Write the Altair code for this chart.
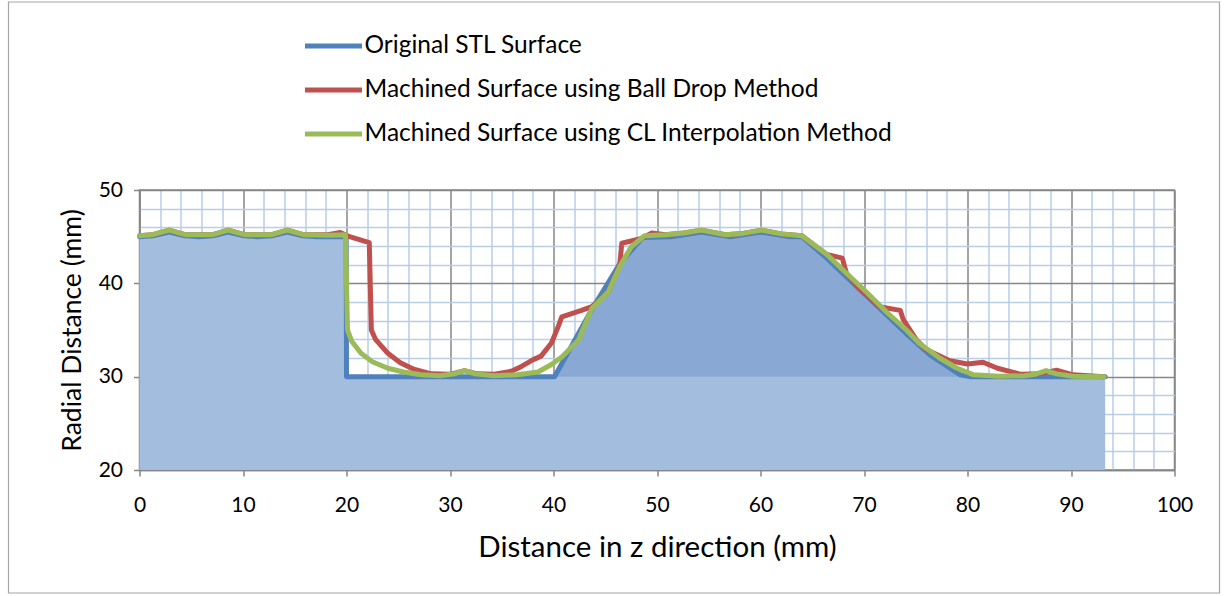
import altair as alt
import pandas as pd

SERIES = [
    "Original STL Surface",
    "Machined Surface using Ball Drop Method",
    "Machined Surface using CL Interpolation Method",
]
COLORS = ["#4F81BD", "#C0504D", "#9BBB59"]

# Original STL surface profile (z, r)
stl_z = [0, 1.3, 2.86, 4.4, 5.71, 7.1, 8.57, 10.1, 11.43, 12.8, 14.29, 15.8, 17.14, 19.97, 20.0,
         40.1, 43.7, 46.4, 48.6, 51.4, 54.3, 57.1, 60.0, 62.9, 64.0, 66.4, 70.1, 74.0, 76.4, 79.3, 80.3, 93.3]
stl_r = [45.0, 45.1, 45.5, 45.1, 45.0, 45.1, 45.5, 45.1, 45.0, 45.1, 45.5, 45.1, 45.0, 45.0, 30.0,
         30.0, 37.2, 42.1, 44.9, 45.0, 45.5, 45.0, 45.5, 45.0, 45.0, 42.7, 38.8, 34.7, 32.3, 30.2, 30.0, 30.0]

# Machined surface, ball drop method
ball_z = [0, 1.2, 2.86, 4.5, 7.0, 8.57, 10.2, 12.7, 14.29, 15.9, 18.2, 19.4, 20.3, 22.2, 22.4, 22.8,
          24.0, 25.2, 26.5, 28.2, 30.0, 31.4, 32.6, 34.3, 36.0, 36.9, 38.0, 38.8, 39.8, 40.5, 40.8,
          42.7, 43.7, 45.3, 46.4, 46.6, 48.5, 49.5, 50.8, 52.6, 54.3, 56.6, 58.3, 60.1, 62.0, 64.0,
          66.4, 67.9, 68.3, 69.5, 71.5, 73.5, 73.8, 75.1, 76.0, 78.3, 80.0, 81.5, 82.9, 85.2, 87.0,
          88.6, 90.2, 93.2]
ball_r = [45.1, 45.2, 45.7, 45.2, 45.2, 45.7, 45.2, 45.2, 45.7, 45.2, 45.2, 45.45, 45.0, 44.35, 35.0, 34.0,
          32.5, 31.5, 30.8, 30.3, 30.25, 30.65, 30.3, 30.25, 30.6, 31.1, 31.8, 32.2, 33.6, 35.5, 36.4,
          37.1, 37.5, 39.1, 42.0, 44.3, 44.8, 45.4, 45.2, 45.4, 45.7, 45.2, 45.35, 45.7, 45.3, 45.1,
          43.1, 42.7, 41.1, 39.5, 37.5, 37.1, 36.1, 33.9, 32.9, 31.7, 31.35, 31.55, 30.9, 30.25, 30.3,
          30.7, 30.2, 30.0]

# Machined surface, CL interpolation method
cl_z = [0, 1.2, 2.86, 4.5, 7.0, 8.57, 10.2, 12.7, 14.29, 15.9, 18.4, 19.9, 20.1, 20.5, 21.4, 22.5,
        24.0, 25.5, 27.2, 29.0, 30.4, 31.4, 32.4, 34.3, 36.5, 38.5, 39.8, 40.8, 42.4, 43.7, 45.3,
        46.4, 47.5, 48.8, 50.8, 52.6, 54.3, 56.6, 58.3, 60.1, 62.0, 64.0, 66.4, 68.0, 70.2, 72.2,
        74.1, 75.3, 77.3, 79.0, 80.6, 83.0, 85.5, 86.5, 87.6, 88.6, 90.2, 93.2]
cl_r = [45.1, 45.2, 45.7, 45.2, 45.2, 45.7, 45.2, 45.2, 45.7, 45.2, 45.15, 45.2, 35.0, 33.8, 32.5, 31.6,
        30.9, 30.5, 30.2, 30.1, 30.3, 30.65, 30.3, 30.1, 30.2, 30.5, 31.3, 32.1, 33.9, 37.3, 39.1,
        41.8, 43.9, 45.1, 45.2, 45.4, 45.7, 45.2, 45.35, 45.7, 45.3, 45.1, 43.1, 41.4, 39.1, 36.9,
        35.0, 33.6, 32.0, 30.9, 30.2, 30.05, 30.1, 30.25, 30.65, 30.3, 30.05, 30.0]

x_grid = list(range(0, 101, 2))
y_grid = list(range(20, 51, 2))

rows = []
for name, zs, rs in [(SERIES[0], stl_z, stl_r), (SERIES[1], ball_z, ball_r), (SERIES[2], cl_z, cl_r)]:
    for i, (z, r) in enumerate(zip(zs, rs)):
        rows.append({"series": name, "z": z, "r": r, "idx": i})
lines_df = pd.DataFrame(rows)
stl_df = lines_df[lines_df["series"] == SERIES[0]].copy()
stl_df["base"] = 20.0
trap_df = stl_df[(stl_df["z"] >= 40) & (stl_df["z"] <= 81)].copy()
trap_df["base"] = 30.0

FONT = "Lato"
AX = "#868686"
MINOR = "#B9CDE5"

xscale = alt.Scale(domain=[0, 100], nice=False, zero=False)
yscale = alt.Scale(domain=[20, 50], nice=False, zero=False)

def make_axis(values, title, label_pad, title_pad, title_size):
    return alt.Axis(
        values=values,
        tickCount=500,
        format="d",
        labelOverlap=False,
        labelFlush=False,
        labelExpr="datum.value % 10 === 0 ? datum.label : ''",
        gridColor={"condition": {"test": "datum.value % 10 === 0", "value": AX}, "value": MINOR},
        gridWidth=1.5,
        tickOpacity={"condition": {"test": "datum.value % 10 === 0", "value": 1}, "value": 0},
        tickColor=AX, tickWidth=1.5, tickSize=6,
        domainColor=AX, domainWidth=1.5,
        labelFont=FONT, labelFontSize=21, labelColor="#000000", labelPadding=label_pad,
        title=title, titleFont=FONT, titleFontSize=title_size,
        titleFontWeight="normal", titleColor="#000000", titlePadding=title_pad,
    )

xaxis = make_axis(x_grid, "Distance in z direction (mm)", 18, 18, 29.5)
yaxis = make_axis(y_grid, "Radial Distance (mm)", 11, 12, 26.5)

light_fill = alt.Chart(stl_df).mark_area(color="#A3BDDF", opacity=1, orient="vertical").encode(
    x=alt.X("z:Q", scale=xscale, axis=xaxis),
    y=alt.Y("r:Q", scale=yscale, axis=yaxis),
    y2="base:Q",
)
dense_fill = alt.Chart(trap_df).mark_area(color="#89A9D4", opacity=1, orient="vertical").encode(
    x="z:Q", y="r:Q", y2="base:Q",
)
lines = alt.Chart(lines_df).mark_line(strokeWidth=5, strokeJoin="round", strokeCap="round").encode(
    x="z:Q",
    y="r:Q",
    color=alt.Color(
        "series:N",
        scale=alt.Scale(domain=SERIES, range=COLORS),
        sort=SERIES,
        legend=alt.Legend(
            title=None, orient="none", legendX=163, legendY=-175, direction="vertical",
            symbolType="stroke", symbolSize=3249, symbolStrokeWidth=5,
            labelFont=FONT, labelFontSize=24.5, labelColor="#000000", labelOffset=0,
            labelLimit=1000, rowPadding=1, padding=0,
        ),
    ),
    detail="series:N",
    order="idx:Q",
)

frame = alt.Chart(pd.DataFrame({"k": [0]})).mark_rect(
    fill=None, stroke="#A6A6A6", strokeWidth=1.2
).encode(
    x=alt.value(-131), x2=alt.value(1080), y=alt.value(-188), y2=alt.value(403)
)

chart = alt.layer(light_fill, dense_fill, lines, frame).properties(
    width=1035, height=280,
    autosize=alt.AutoSizeParams(type="none"),
    padding={"left": 139.5, "top": 190, "right": 52.5, "bottom": 126},
    background="#FFFFFF",
).configure_view(stroke=AX, strokeWidth=1.5)

chart.save("out.html", embed_options={"renderer": "svg", "actions": False})
